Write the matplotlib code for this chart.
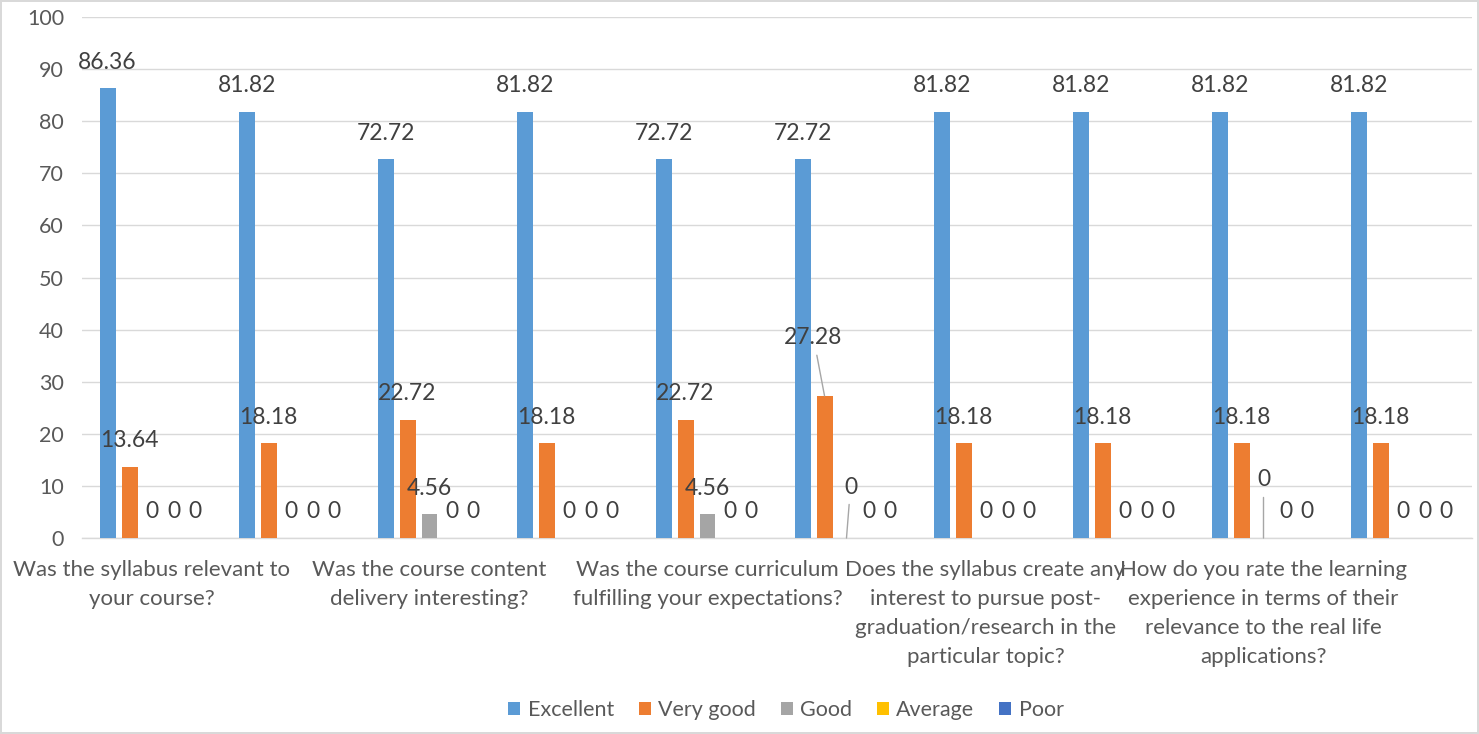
import numpy as np
import matplotlib
matplotlib.use("Agg")
import matplotlib.pyplot as plt

plt.rcParams['font.family'] = ['Lato', 'DejaVu Sans']

# Data
categories = [
    "Was the syllabus relevant to\nyour course?",
    "",
    "Was the course content\ndelivery interesting?",
    "",
    "Was the course curriculum\nfulfilling your expectations?",
    "",
    "Does the syllabus create any\ninterest to pursue post-\ngraduation/research in the\nparticular topic?",
    "",
    "How do you rate the learning\nexperience in terms of their\nrelevance to the real life\napplications?",
    "",
]
series_names = ["Excellent", "Very good", "Good", "Average", "Poor"]
excellent = [86.36, 81.82, 72.72, 81.82, 72.72, 72.72, 81.82, 81.82, 81.82, 81.82]
very_good = [13.64, 18.18, 22.72, 18.18, 22.72, 27.28, 18.18, 18.18, 18.18, 18.18]
good = [0, 0, 4.56, 0, 4.56, 0, 0, 0, 0, 0]
average = [0, 0, 0, 0, 0, 0, 0, 0, 0, 0]
poor = [0, 0, 0, 0, 0, 0, 0, 0, 0, 0]
yticks = [0, 10, 20, 30, 40, 50, 60, 70, 80, 90, 100]

colors = ['#5B9BD5', '#ED7D31', '#A5A5A5', '#FFC000', '#4472C4']
TEXT = '#595959'
LABEL = '#404040'

# labels moved off the bar in the original: (series, category) -> offset px
moved = {(1, 5): (-11, 58), (2, 5): (4, 51), (2, 8): (0, 58)}

fig = plt.figure(figsize=(14.79, 7.34), dpi=100)
fig.patch.set_edgecolor('#D9D9D9')
fig.patch.set_linewidth(1.5)
ax = fig.add_axes([82 / 1479, 196 / 734, 1390 / 1479, 521 / 734])

x = np.arange(len(categories))
stride = 0.158
width = 0.115
all_series = [excellent, very_good, good, average, poor]
pt = 72 / 100  # px -> points

for i, (vals, name, col) in enumerate(zip(all_series, series_names, colors)):
    pos = x + (i - 2) * stride
    ax.bar(pos, vals, width=width, color=col, label=name, zorder=3)
    for j, (px_, v) in enumerate(zip(pos, vals)):
        txt = f"{v:g}" if v != 0 else "0"
        if (i, j) in moved:
            dx, dy = moved[(i, j)]
            ax.annotate(txt, xy=(px_, v), xytext=(dx * pt, dy * pt),
                        textcoords='offset points', ha='center', va='center',
                        fontsize=16.5, color=LABEL,
                        arrowprops=dict(arrowstyle='-', color='#A6A6A6', lw=1,
                                        shrinkA=3, shrinkB=0))
        else:
            ax.annotate(txt, xy=(px_, v), xytext=(0, 26 * pt),
                        textcoords='offset points', ha='center', va='center',
                        fontsize=16.5, color=LABEL)

ax.set_xlim(-0.5, len(categories) - 0.5)
ax.set_ylim(0, 100)
ax.set_yticks(yticks)
ax.set_xticks(x)
ax.set_xticklabels(categories, fontsize=16, color=TEXT, linespacing=1.55)
ax.tick_params(axis='y', length=0, pad=13, labelsize=15.5, labelcolor=TEXT)
ax.tick_params(axis='x', length=0, pad=16)
ax.grid(axis='y', color='#D9D9D9', linewidth=1, zorder=0)
for s in ['top', 'left', 'right']:
    ax.spines[s].set_visible(False)
ax.spines['bottom'].set_color('#D9D9D9')
ax.spines['bottom'].set_linewidth(1)

fig.legend(loc='center', bbox_to_anchor=(786 / 1479, 1 - 710 / 734), ncol=5,
           frameon=False, fontsize=15.5, labelcolor=TEXT, handlelength=0.55,
           handleheight=0.55, handletextpad=0.35, columnspacing=1.15)

fig.savefig('out.png', dpi=100)
